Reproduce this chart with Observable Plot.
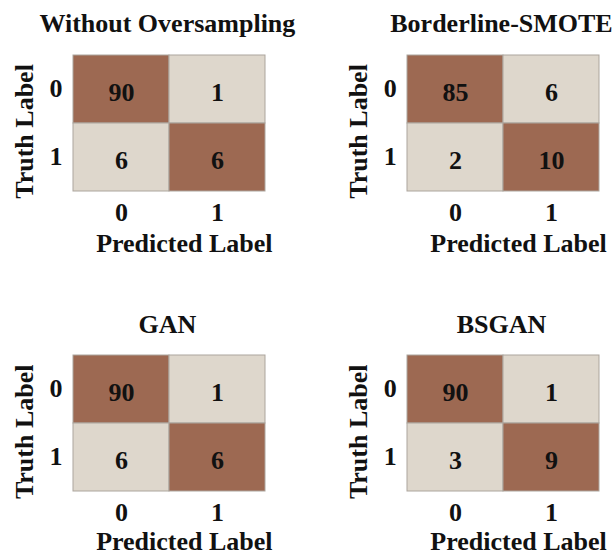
<!DOCTYPE html>
<html>
<head>
<meta charset="utf-8">
<script src="https://cdn.jsdelivr.net/npm/d3@7"></script>
<script src="https://cdn.jsdelivr.net/npm/@observablehq/plot@0.6"></script>
<style>
  html, body { margin: 0; padding: 0; background: #fff; }
  #board { position: relative; width: 613px; height: 554px; overflow: hidden; }
  .panel { position: absolute; }
</style>
</head>
<body>
<div id="board"></div>
<script>
// Class labels shared by both axes
const classes = ["0", "1"];

// Confusion-matrix counts, row-major: [truth0→pred0, truth0→pred1, truth1→pred0, truth1→pred1]
const withoutOversampling = [90, 1, 6, 6];
const borderlineSmote = [85, 6, 2, 10];
const gan = [90, 1, 6, 6];
const bsgan = [90, 1, 3, 9];

const titles = ["Without Oversampling", "Borderline-SMOTE", "GAN", "BSGAN"];
const matrices = [withoutOversampling, borderlineSmote, gan, bsgan];

const xLabel = "Predicted Label";
const yLabel = "Truth Label";

const outcomes = ["correct", "error"];
const outcomeColors = ["#9d6952", "#ded7cc"];

const font = "'Liberation Serif', 'Times New Roman', Times, serif";

// Panel boxes within the 613×554 board: position, size, plot margins and x-label offset
const boxes = [
  {left: 0,   top: 0,   width: 306, height: 277, ml: 72,    mr: 40.3, mt: 54.3, mb: 86, xl: 52.5},
  {left: 306, top: 0,   width: 307, height: 277, ml: 100.3, mr: 13.3, mt: 54.3, mb: 86, xl: 52.5},
  {left: 0,   top: 277, width: 306, height: 277, ml: 72,    mr: 40.3, mt: 78,   mb: 63, xl: 50.5},
  {left: 306, top: 277, width: 307, height: 277, ml: 100.3, mr: 13.3, mt: 78,   mb: 63, xl: 50.5}
];

function cellsOf(values) {
  const out = [];
  classes.forEach((t, i) => classes.forEach((p, j) => {
    out.push({truth: t, predicted: p, count: values[i * classes.length + j], outcome: t === p ? "correct" : "error"});
  }));
  return out;
}

const label = {fontSize: 26, fontWeight: "bold", fill: "#111", textAnchor: "middle", lineAnchor: "middle"};

function panel(title, values, box) {
  const data = cellsOf(values);
  return Plot.plot({
    width: box.width,
    height: box.height,
    marginLeft: box.ml,
    marginRight: box.mr,
    marginTop: box.mt,
    marginBottom: box.mb,
    style: {fontFamily: font, fontWeight: "bold", fontSize: "26px", color: "#111", background: "transparent", overflow: "visible"},
    x: {domain: classes, padding: 0},
    y: {domain: classes, padding: 0},
    color: {type: "ordinal", domain: outcomes, range: outcomeColors},
    marks: [
      Plot.cell(data, {x: "predicted", y: "truth", fill: "outcome", stroke: "#aca59d", strokeWidth: 1}),
      Plot.text(data, {x: "predicted", y: "truth", text: "count", dy: 3, ...label}),
      Plot.axisX({tickSize: 0, tickPadding: 11, fontSize: 26, fontWeight: "bold", label: null, fill: "#111"}),
      Plot.axisY({tickSize: 0, tickPadding: 10, fontSize: 26, fontWeight: "bold", label: null, dy: -1, fill: "#111"}),
      Plot.text([title], {frameAnchor: "top", dy: -31, dx: -2, ...label}),
      Plot.text([xLabel], {frameAnchor: "bottom", dy: box.xl, dx: 15, ...label}),
      Plot.text([yLabel], {frameAnchor: "left", rotate: -90, dx: -48, dy: 8.3, ...label})
    ]
  });
}

const board = document.getElementById("board");
titles.forEach((title, k) => {
  const box = boxes[k];
  const div = document.createElement("div");
  div.className = "panel";
  div.style.left = box.left + "px";
  div.style.top = box.top + "px";
  div.appendChild(panel(title, matrices[k], box));
  board.appendChild(div);
});
</script>
</body>
</html>
